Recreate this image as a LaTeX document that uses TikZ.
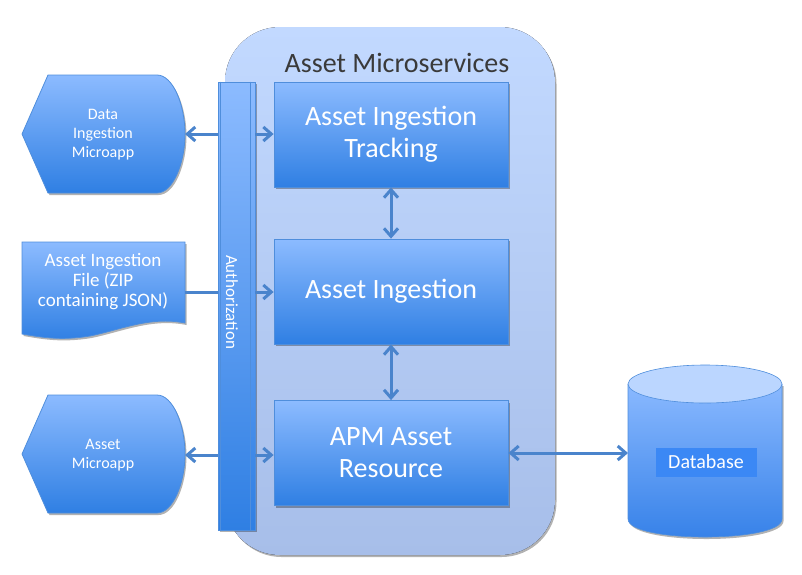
\documentclass[tikz,border=0pt]{standalone}
\usepackage{fontspec}
\setmainfont{Carlito}
\usetikzlibrary{arrows.meta, shadows}
\definecolor{boxtop}{HTML}{8CBBFF}
\definecolor{boxbot}{HTML}{2F7FE3}
\definecolor{boxline}{HTML}{4F8EDC}
\definecolor{cnttop}{HTML}{C2D9FF}
\definecolor{cntbot}{HTML}{A7BEE9}
\definecolor{arrowblue}{HTML}{4A84CC}
\definecolor{titlegray}{HTML}{3A3A3A}
\definecolor{dbtop}{HTML}{BBD6FF}
\definecolor{dbbodytop}{HTML}{8AB9FF}
\definecolor{dbbodybot}{HTML}{3480E8}
\definecolor{dblabel}{HTML}{3B88F5}

\begin{document}
\begin{tikzpicture}[x=1pt, y=-1pt,
  >={Straight Barb[length=8pt, width=14pt]},
  softshadow/.style={drop shadow={shadow xshift=1.5pt, shadow yshift=-2pt, opacity=0.3, fill=black}},
  svcbox/.style={draw=boxline, line width=0.8pt, top color=boxtop, bottom color=boxbot,
    minimum width=234pt, minimum height=105pt, text=white, align=center,
    font=\fontsize{28}{32}\selectfont, softshadow},
  blueshape/.style={draw=boxline, line width=0.8pt, top color=boxtop, bottom color=boxbot, softshadow},
  smalltxt/.style={text=white, align=center, font=\fontsize{16}{19}\selectfont},
  conn/.style={draw=arrowblue, line width=3pt},
]
\useasboundingbox (0,0) rectangle (802,574);

% =====================================================
% Container: Asset Microservices
% =====================================================
\fill[top color=cnttop, bottom color=cntbot, rounded corners=55pt, softshadow]
  (225,27) rectangle (555,555);
\node[text=titlegray, font=\fontsize{28}{32}\selectfont] (title) at (397,63) {Asset Microservices};

% Service boxes
\node[svcbox] (track) at (391,134.5) {Asset Ingestion\\Tracking};
\node[svcbox] (ingest) at (391,291.5) {Asset Ingestion};
\node[svcbox] (apm) at (391,453) {APM Asset\\Resource};

\draw[conn, <->] (track) -- (ingest);
\draw[conn, <->] (ingest) -- (apm);

% Authorization bar
\node[blueshape, minimum width=37pt, minimum height=448pt] (auth) at (236.5,306) {};
\draw[boxline, line width=0.8pt] ([xshift=3pt]auth.north west) -- ([xshift=3pt]auth.south west);
\draw[boxline, line width=0.8pt] ([xshift=-5pt]auth.north east) -- ([xshift=-5pt]auth.south east);
\node[text=white, rotate=-90, font=\fontsize{17}{19}\selectfont] (authtxt) at (232,302) {Authorization};

% =====================================================
% Left side: clients
% =====================================================
% Data Ingestion Microapp (display shape)
\path[blueshape]
  (48,75) -- (157,75) .. controls (173,75) and (185,105) .. (185,134)
  .. controls (185,163) and (173,193) .. (157,193) -- (48,193) -- (22,134) -- cycle;
\node[smalltxt] (dim) at (103,135) {Data\\Ingestion\\Microapp};
\coordinate (dim-e) at (185,134);

% Asset Ingestion File (document shape)
\path[blueshape]
  (22,242) -- (185,242) -- (185,323)
  .. controls (150,316) and (120,330) .. (90,336)
  .. controls (60,341) and (40,337) .. (22,334) -- cycle;
\node[text=white, align=center, font=\fontsize{19}{20}\selectfont] (aif) at (103,282)
  {Asset Ingestion\\File (ZIP\\containing JSON)};
\coordinate (aif-e) at (185,292);

% Asset Microapp (display shape)
\path[blueshape]
  (48,395) -- (157,395) .. controls (173,395) and (185,425) .. (185,454)
  .. controls (185,483) and (173,513) .. (157,513) -- (48,513) -- (22,454) -- cycle;
\node[smalltxt] (am) at (103,455) {Asset\\Microapp};
\coordinate (am-e) at (185,455);

% Connectors through the authorization bar
\draw[conn, <-] (dim-e) -- (auth.west |- dim-e);
\draw[conn, ->] (auth.east |- dim-e) -- (track.west |- dim-e);
\draw[conn] (aif-e) -- (auth.west |- aif-e);
\draw[conn, ->] (auth.east |- aif-e) -- (ingest.west |- aif-e);
\draw[conn, <-] (am-e) -- (auth.west |- am-e);
\draw[conn, ->] (auth.east |- am-e) -- (apm.west |- am-e);

% =====================================================
% Right side: Database
% =====================================================
\path[top color=dbbodytop, bottom color=dbbodybot, softshadow]
  (628,384) -- (628,519) .. controls (628,543) and (782,543) .. (782,519) -- (782,384) -- cycle;
\draw[boxline, line width=0.6pt]
  (628,384) -- (628,519) .. controls (628,543) and (782,543) .. (782,519) -- (782,384);
\draw[boxline, line width=0.6pt, fill=dbtop] (705,384) ellipse [x radius=77, y radius=19];
\node[fill=dblabel, text=white, minimum width=101pt, minimum height=29pt,
  font=\fontsize{20}{22}\selectfont] (db) at (706,462) {Database};
\coordinate (db-w) at (628,453);

\draw[conn, <->] (apm.east) -- (db-w);

\end{tikzpicture}
\end{document}
